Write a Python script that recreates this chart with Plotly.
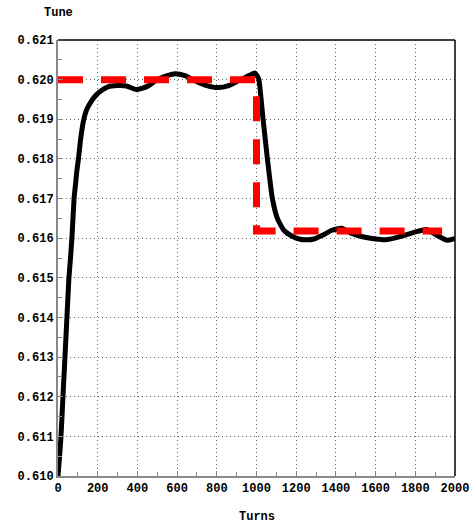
import plotly.graph_objects as go

turns = [0, 8, 15, 25, 35, 45, 55, 63, 70, 81, 88, 95, 103, 114, 128, 145, 170, 190, 212, 252,
         300, 345, 395, 450, 500, 550, 590, 640, 700, 750, 806, 860, 920, 960, 992,
         1003, 1012, 1033, 1055, 1080, 1105, 1138, 1180, 1215, 1247, 1290, 1335, 1380, 1429,
         1480, 1540, 1600, 1650, 1710, 1765, 1810, 1857, 1900, 1958, 1985, 2000]
tune = [0.6100, 0.6105, 0.6110, 0.6120, 0.6130, 0.6140, 0.6150, 0.6155, 0.6160, 0.6170, 0.61735,
        0.6177, 0.6180, 0.6185, 0.61895, 0.61925, 0.61947, 0.6196, 0.6197, 0.61982,
        0.61985, 0.61984, 0.61975, 0.61983, 0.62000, 0.62010, 0.62015, 0.62010,
        0.61995, 0.61985, 0.61980, 0.61985, 0.62000, 0.62010, 0.62017,
        0.62010, 0.62000, 0.61900, 0.61800, 0.61700, 0.61650, 0.61620, 0.61605, 0.61598,
        0.61596, 0.61598, 0.61608, 0.61620, 0.61625, 0.61612, 0.61603, 0.61598, 0.61596,
        0.61602, 0.61610, 0.61617, 0.61622, 0.61610, 0.61595, 0.61597, 0.61600]

ref_turns = [0, 1000, 1000, 1935]
ref_tune = [0.6200, 0.6200, 0.61618, 0.61618]

x_ticks = [0, 200, 400, 600, 800, 1000, 1200, 1400, 1600, 1800, 2000]
y_ticks = [0.610, 0.611, 0.612, 0.613, 0.614, 0.615, 0.616, 0.617, 0.618, 0.619, 0.620, 0.621]

fig = go.Figure()
fig.add_trace(go.Scatter(x=turns, y=tune, mode="lines",
                         line=dict(color="black", width=5, shape="spline", smoothing=0.5),
                         showlegend=False))
fig.add_trace(go.Scatter(x=ref_turns, y=ref_tune, mode="lines",
                         line=dict(color="#ff0000", width=7, dash="25px,18px"),
                         showlegend=False))

font = dict(family="Liberation Mono, DejaVu Sans Mono, monospace", size=12, color="black", weight="bold")

axis_common = dict(showgrid=True, gridcolor="#666666", griddash="1px,3px", gridwidth=1,
                   showline=True, linecolor="#888888", linewidth=2,
                   ticks="inside", ticklen=5, tickcolor="#888888",
                   tickfont=font, zeroline=False, automargin=False)

fig.update_layout(
    width=475, height=527,
    margin=dict(l=58, r=20, t=40, b=51),
    plot_bgcolor="white", paper_bgcolor="white",
    xaxis=dict(range=[0, 2000], tickvals=x_ticks, ticktext=[str(v) for v in x_ticks],
               minor=dict(dtick=100, ticks="inside", ticklen=4, tickcolor="#888888", showgrid=False),
               **axis_common),
    yaxis=dict(range=[0.610, 0.621], tickvals=y_ticks, ticktext=["%.3f" % v for v in y_ticks],
               minor=dict(dtick=0.0005, ticks="inside", ticklen=4, tickcolor="#888888", showgrid=False),
               **axis_common),
    shapes=[
        dict(type="line", xref="paper", yref="paper", x0=0, x1=1, y0=1, y1=1,
             line=dict(color="black", width=1.5)),
        dict(type="line", xref="paper", yref="paper", x0=1, x1=1, y0=0, y1=1,
             line=dict(color="black", width=1.5)),
    ],
    annotations=[
        dict(text="Tune", xref="paper", yref="paper", x=-0.04, y=1.0, yshift=18,
             xanchor="left", yanchor="bottom", showarrow=False, font=font),
        dict(text="Turns", xref="paper", yref="paper", x=0.5, y=0, yshift=-32,
             xanchor="center", yanchor="top", showarrow=False, font=font),
    ],
)

fig.write_html("out.html")
